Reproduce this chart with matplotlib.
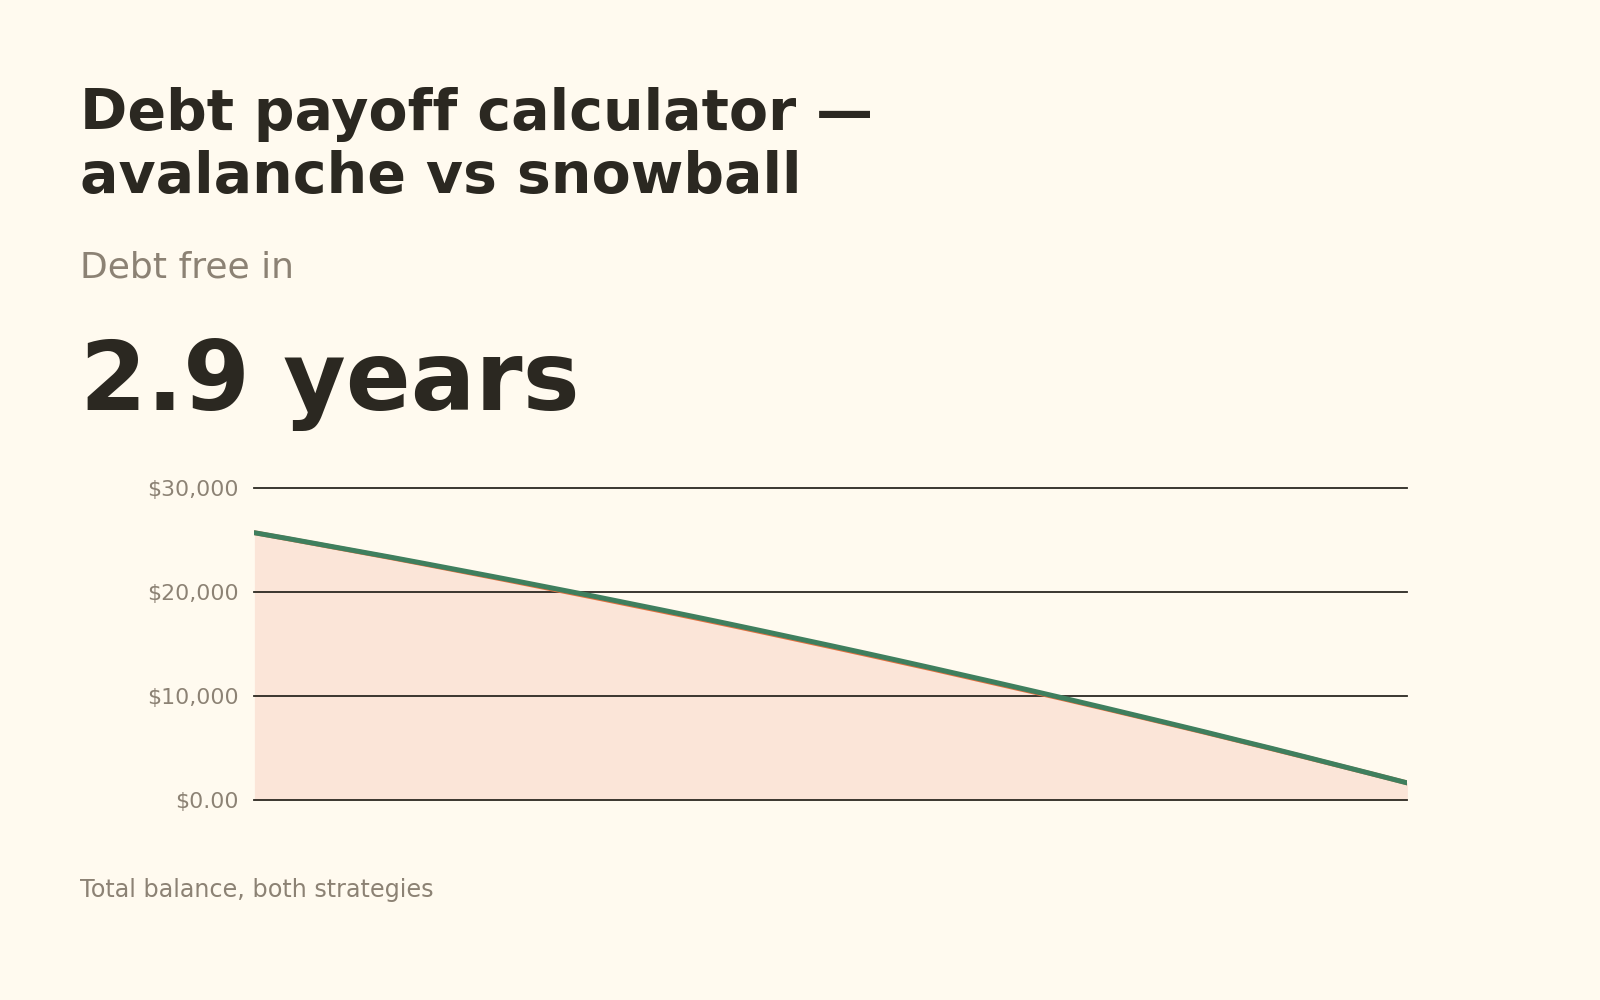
import matplotlib
matplotlib.use("Agg")
import matplotlib.pyplot as plt
from matplotlib.ticker import FuncFormatter

plt.rcParams['font.family'] = ['DejaVu Sans']

# ---- data (total balance, thousands of $) ----
months = list(range(35))
snowball = [25.70, 25.13, 24.54, 23.95, 23.36, 22.75, 22.13, 21.51, 20.88, 20.24,
            19.60, 18.94, 18.28, 17.61, 16.93, 16.24, 15.54, 14.84, 14.13, 13.41,
            12.68, 11.94, 11.20, 10.45, 9.69, 8.92, 8.14, 7.36, 6.57, 5.76,
            4.96, 4.14, 3.31, 2.48, 1.64]
avalanche = [25.70, 25.11, 24.51, 23.91, 23.31, 22.69, 22.06, 21.43, 20.79, 20.14,
             19.49, 18.83, 18.17, 17.50, 16.82, 16.13, 15.43, 14.73, 14.02, 13.30,
             12.58, 11.84, 11.10, 10.36, 9.61, 8.85, 8.08, 7.30, 6.52, 5.72,
             4.92, 4.11, 3.29, 2.47, 1.64]
snowball = [v * 1000 for v in snowball]
avalanche = [v * 1000 for v in avalanche]
yticks = [0, 10000, 20000, 30000]

BG = "#fffaef"
DARK = "#2b2821"
GRAY = "#8c8274"
GREEN = "#3f7f5e"
ORANGE = "#e2703f"
FILL = "#fbe5d8"

fig = plt.figure(figsize=(16, 10), dpi=100, facecolor=BG)

fig.text(0.050, 0.870, "Debt payoff calculator —", fontsize=41, fontweight="bold",
         color=DARK, va="baseline", ha="left")
fig.text(0.050, 0.807, "avalanche vs snowball", fontsize=41, fontweight="bold",
         color=DARK, va="baseline", ha="left")
fig.text(0.050, 0.7225, "Debt free in", fontsize=26, color=GRAY,
         va="baseline", ha="left")
fig.text(0.050, 0.590, "2.9 years", fontsize=69, fontweight="bold", color=DARK,
         va="baseline", ha="left")
fig.text(0.050, 0.103, "Total balance, both strategies", fontsize=17.2, color=GRAY,
         va="baseline", ha="left")

ax = fig.add_axes([0.159, 0.2, 0.7206, 0.312])
ax.set_facecolor(BG)
ax.fill_between(months, avalanche, 0, color=FILL, linewidth=0, zorder=1)
ax.plot(months, avalanche, color=ORANGE, lw=3.4, solid_capstyle="round", zorder=3)
ax.plot(months, snowball, color=GREEN, lw=3.6, solid_capstyle="round", zorder=4)

ax.set_xlim(months[0], months[-1])
ax.set_ylim(0, 30000)
ax.set_yticks(yticks)
ax.yaxis.set_major_formatter(FuncFormatter(lambda v, p: "$0.00" if v == 0 else f"${v:,.0f}"))
ax.grid(axis="y", color=DARK, lw=1.3, zorder=2)
for gl in ax.get_ygridlines():
    gl.set_clip_on(False)
ax.set_axisbelow(False)
for s in ax.spines.values():
    s.set_visible(False)
ax.set_xticks([])
ax.tick_params(axis="y", length=0, pad=11, labelsize=15.8, labelcolor=GRAY)

fig.savefig("out.png", dpi=100, facecolor=BG)
